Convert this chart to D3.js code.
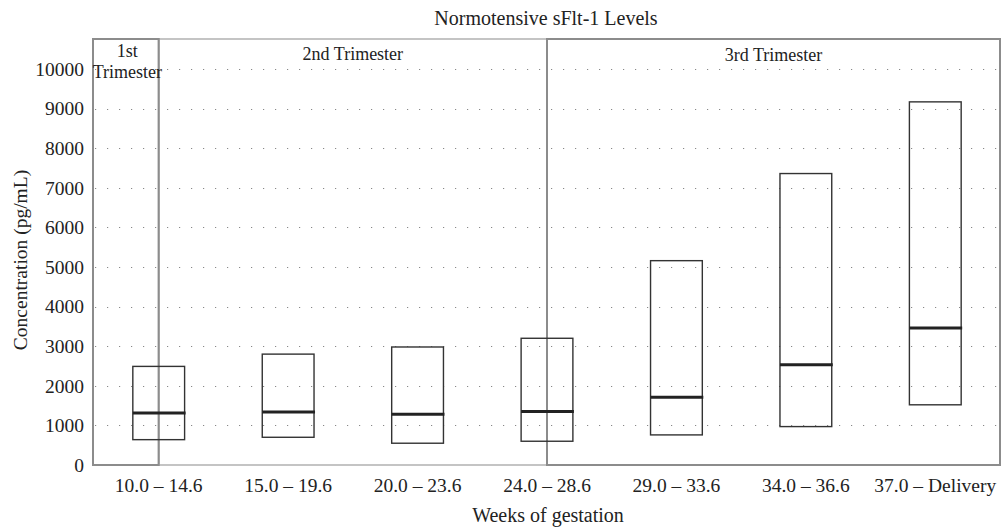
<!DOCTYPE html>
<html>
<head>
<meta charset="utf-8">
<script src="https://cdn.jsdelivr.net/npm/d3@7"></script>
<style>
  html, body { margin: 0; padding: 0; background: #fff; }
  svg { display: block; }
  svg text { font-family: "Liberation Serif", "Times New Roman", Times, "DejaVu Serif", serif !important; fill: #222; }
</style>
</head>
<body>
<svg id="chart" width="1004" height="528"></svg>
<script>
// ---- data ----
const categories = ["10.0 \u2013 14.6", "15.0 \u2013 19.6", "20.0 \u2013 23.6", "24.0 \u2013 28.6", "29.0 \u2013 33.6", "34.0 \u2013 36.6", "37.0 \u2013 Delivery"];
const q1Values     = [640, 700, 550, 600, 760, 970, 1520];
const medianValues = [1310, 1340, 1280, 1350, 1710, 2530, 3460];
const q3Values     = [2490, 2800, 2980, 3200, 5160, 7360, 9170];
const yTicks = [0, 1000, 2000, 3000, 4000, 5000, 6000, 7000, 8000, 9000, 10000];
const trimesterLabels = [["1st", "Trimester"], ["2nd Trimester"], ["3rd Trimester"]];
// trimester spans in category-index units (-0.5 = left edge, 6.5 = right edge)
const trimesterStart = [-0.5, 0, 3];
const trimesterEnd = [0, 3, 6.5];

(function () {
const svg = d3.select("#chart");
const pLeft = 93, pRight = 1000, pTop = 39, pBottom = 465;

const x = d3.scaleBand().domain(categories).range([pLeft + 1, pRight]).padding(0);
const y = d3.scaleLinear().domain([0, 10000]).range([pBottom, 69]);
const step = x.step();
const idxPos = i => x.range()[0] + (i + 0.5) * step;

// grid (dotted)
svg.append("g").selectAll("line").data(yTicks.filter(d => d > 0)).join("line")
  .attr("x1", pLeft + 2).attr("x2", pRight - 1)
  .attr("y1", d => Math.round(y(d)) + 0.5).attr("y2", d => Math.round(y(d)) + 0.5)
  .attr("stroke", "#888").attr("stroke-width", 1)
  .attr("stroke-dasharray", "1.2,10.8");

// trimester frames
const frameColors = ["#8c8c8c", "#c4c4c4", "#8c8c8c"];
const order = [1, 0, 2];
const fx0 = i => i === 0 ? pLeft : idxPos(trimesterStart[i]);
const fx1 = i => i === 2 ? pRight : idxPos(trimesterEnd[i]);
svg.append("g").selectAll("rect").data(order).join("rect")
  .attr("x", fx0)
  .attr("y", pTop)
  .attr("width", i => fx1(i) - fx0(i))
  .attr("height", pBottom - pTop)
  .attr("fill", "none")
  .attr("stroke", i => frameColors[i])
  .attr("stroke-width", 2);

// trimester labels
const tl = svg.append("g").attr("font-size", 18).attr("text-anchor", "middle");
const labelY = [57, 60, 60.5];
trimesterLabels.forEach((lines, i) => {
  const cx = (fx0(i) + fx1(i)) / 2 + (i === 0 ? 1.5 : 0);
  const t = tl.append("text").attr("x", cx).attr("y", labelY[i]);
  lines.forEach((ln, k) => {
    t.append("tspan").attr("x", cx).attr("dy", k === 0 ? 0 : 21).text(ln);
  });
});

// boxes
const bw = step * 0.4;
const boxes = svg.append("g");
categories.forEach((c, i) => {
  const cx = x(c) + x.bandwidth() / 2;
  boxes.append("rect")
    .attr("x", cx - bw / 2).attr("y", y(q3Values[i]))
    .attr("width", bw).attr("height", y(q1Values[i]) - y(q3Values[i]))
    .attr("fill", "none").attr("stroke", "#333").attr("stroke-width", 1.4);
  boxes.append("line")
    .attr("x1", cx - bw / 2).attr("x2", cx + bw / 2 + 1)
    .attr("y1", y(medianValues[i])).attr("y2", y(medianValues[i]))
    .attr("stroke", "#222").attr("stroke-width", 3);
});

// y axis labels
const yAxis = d3.axisLeft(y).tickValues(yTicks).tickSize(0).tickPadding(9).tickFormat(d3.format("d"));
const ya = svg.append("g").attr("transform", `translate(${pLeft},0)`).call(yAxis);
ya.select(".domain").remove();
ya.attr("font-size", 19.5).attr("font-family", null);

// x axis labels
const xAxis = d3.axisBottom(x).tickSize(0).tickPadding(13.5);
const xa = svg.append("g").attr("transform", `translate(0,${pBottom})`).call(xAxis);
xa.select(".domain").remove();
xa.attr("font-size", 19.5).attr("font-family", null);

// titles
svg.append("text").attr("x", 546).attr("y", 25).attr("text-anchor", "middle")
  .attr("font-size", 20).text("Normotensive sFlt-1 Levels");
svg.append("text").attr("x", 548).attr("y", 522).attr("text-anchor", "middle")
  .attr("font-size", 20).text("Weeks of gestation");
svg.append("text").attr("transform", "translate(27,260) rotate(-90)").attr("text-anchor", "middle")
  .attr("font-size", 19.5).text("Concentration (pg/mL)");
})();
</script>
</body>
</html>
